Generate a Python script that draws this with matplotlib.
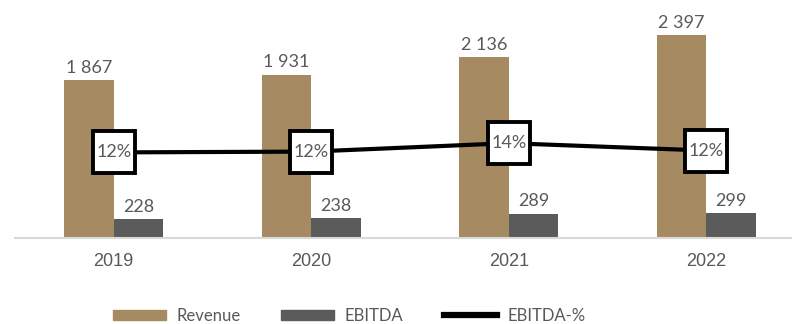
import matplotlib
matplotlib.use("Agg")
import matplotlib.pyplot as plt
from matplotlib.patches import Patch
from matplotlib.lines import Line2D

years = ["2019", "2020", "2021", "2022"]
revenue = [1867, 1931, 2136, 2397]
ebitda = [228, 238, 289, 299]
ebitda_pct = [100 * e / r for e, r in zip(ebitda, revenue)]

rev_color = "#A68A62"
ebit_color = "#5B5B5B"
text_color = "#595959"
label_font = "Lato"

fig = plt.figure(figsize=(7.92, 3.24), dpi=100)
ax = fig.add_axes([15 / 792, 86 / 324, 777 / 792, 218 / 324])

x = list(range(len(years)))
w = 0.25
bars_r = ax.bar([i - w / 2 for i in x], revenue, width=w, color=rev_color)
bars_e = ax.bar([i + w / 2 for i in x], ebitda, width=w, color=ebit_color)

for bars, vals in [(bars_r, revenue), (bars_e, ebitda)]:
    for b, v in zip(bars, vals):
        ax.annotate(f"{v:,}".replace(",", " "), (b.get_x() + b.get_width() / 2, v),
                    xytext=(0, 3), textcoords="offset points", ha="center", va="bottom",
                    fontsize=13, color=text_color, family=label_font)

ax.set_xlim(-0.5, -0.5 + 777 / 197.5)
ax.set_ylim(0, 2577)
ax.set_yticks([])
for s in ["top", "right", "left"]:
    ax.spines[s].set_visible(False)
ax.spines["bottom"].set_color("#D9D9D9")
ax.spines["bottom"].set_linewidth(1.5)
ax.set_xticks(x)
ax.set_xticklabels(years, fontsize=13, color=text_color, family="Liberation Sans")
ax.tick_params(axis="x", length=0, pad=11)

# EBITDA-% on its own scale, boxes drawn as square markers
ax2 = ax.twinx()
ax2.set_ylim(0, 31.1)
ax2.set_yticks([])
for s in ax2.spines.values():
    s.set_visible(False)
ax2.plot(x, ebitda_pct, color="black", lw=3, zorder=2,
         marker="s", ms=30, mfc="white", mec="black", mew=2.8)
for i, p in zip(x, ebitda_pct):
    ax2.text(i, p, f"{p:.0f}%", ha="center", va="center", fontsize=13, color=text_color,
             family=label_font, zorder=3)

handles = [Patch(color=rev_color), Patch(color=ebit_color), Line2D([], [], color="black", lw=4.5)]
fig.legend(handles, ["Revenue", "EBITDA", "EBITDA-%"], loc="center", bbox_to_anchor=(349 / 792, 1 - 316 / 324),
           ncol=3, frameon=False, handlelength=3.2, handleheight=0.6, columnspacing=2.45,
           handletextpad=0.6, prop={"family": label_font, "size": 12},
           labelcolor=text_color)

fig.savefig("out.png", dpi=100)
